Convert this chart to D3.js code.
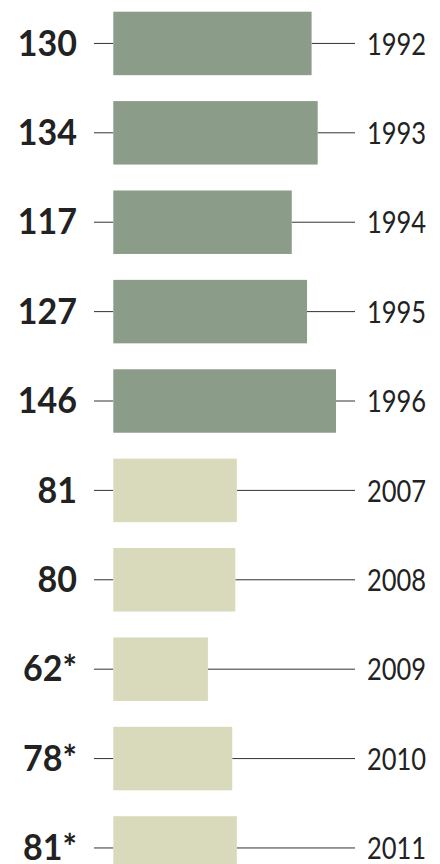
<!DOCTYPE html>
<html>
<head>
<meta charset="utf-8">
<script src="https://cdn.jsdelivr.net/npm/d3@7"></script>
<style>
  body { margin: 0; background: #fff; overflow: hidden; }
</style>
</head>
<body>
<div id="chart"></div>
<script>
let years = ["1992", "1993", "1994", "1995", "1996", "2007", "2008", "2009", "2010", "2011"];
let values = [130, 134, 117, 127, 146, 81, 80, 62, 78, 81];
let valueLabels = ["130", "134", "117", "127", "146", "81", "80", "62*", "78*", "81*"];
let periods = ["early", "early", "early", "early", "early", "late", "late", "late", "late", "late"];

let width = 440, height = 864;

let svg = d3.select("#chart").append("svg")
  .attr("width", width)
  .attr("height", height)
  .style("display", "block");

let x = d3.scaleLinear()
  .domain([0, 146])
  .range([113.3, 336]);

let y = d3.scaleBand()
  .domain(years)
  .range([11.7, 879.7])
  .paddingInner(0.29)
  .paddingOuter(0);

let color = d3.scaleOrdinal()
  .domain(["early", "late"])
  .range(["#8b9c89", "#d9d9bc"]);

let rows = years.map((yr, i) => ({ year: yr, value: values[i], label: valueLabels[i], period: periods[i] }));

let row = svg.selectAll(".row")
  .data(rows)
  .join("g")
  .attr("class", "row")
  .attr("transform", d => `translate(0,${y(d.year)})`);

let mid = y.bandwidth() / 2;

// left tick line
row.append("line")
  .attr("x1", 94).attr("x2", x(0))
  .attr("y1", mid).attr("y2", mid)
  .attr("stroke", "#333").attr("stroke-width", 1);

// right leader line to the year
row.append("line")
  .attr("x1", d => x(d.value)).attr("x2", 355)
  .attr("y1", mid).attr("y2", mid)
  .attr("stroke", "#333").attr("stroke-width", 1);

row.append("rect")
  .attr("x", x(0))
  .attr("width", d => x(d.value) - x(0))
  .attr("height", y.bandwidth())
  .attr("fill", d => color(d.period));

row.append("text")
  .text(d => d.label)
  .attr("transform", `translate(77,${mid + 12.2}) scale(0.92,1)`)
  .attr("text-anchor", "end")
  .attr("font-family", "Lato, sans-serif")
  .attr("font-weight", 700)
  .attr("font-size", 37)
  .attr("fill", "#222");

row.append("text")
  .text(d => d.year)
  .attr("transform", `translate(367,${mid + 11.2}) scale(0.85,1)`)
  .attr("font-family", "Lato, sans-serif")
  .attr("font-weight", 400)
  .attr("font-size", 30)
  .attr("fill", "#222");
</script>
</body>
</html>
